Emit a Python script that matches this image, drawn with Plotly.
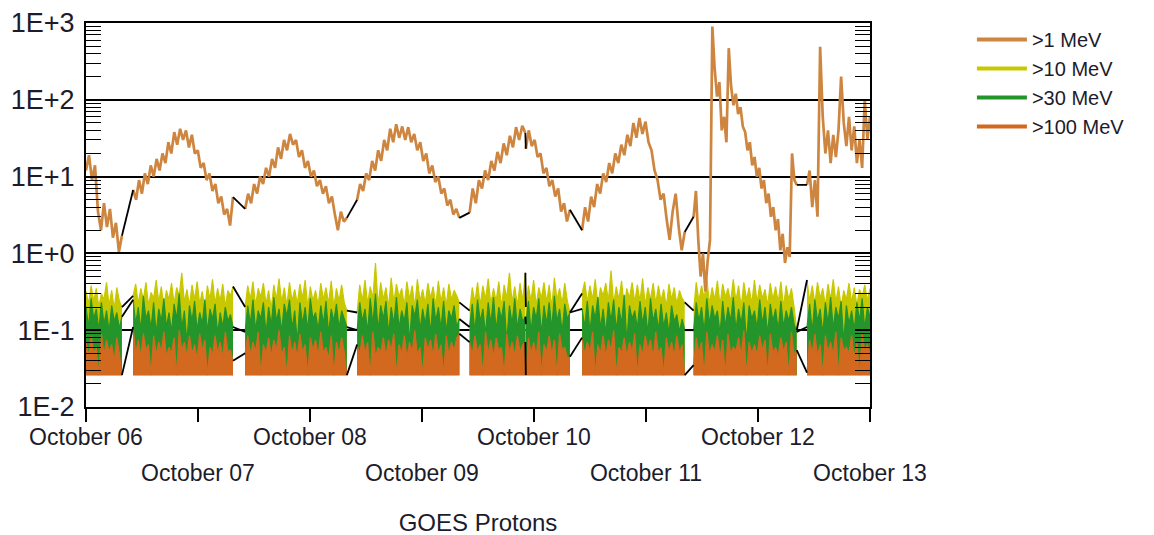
import pandas as pd
import plotly.graph_objects as go

# ---------------- data ----------------
START = pd.Timestamp("2024-10-06 00:00")
# data segments (hours after Oct 06 00:00); data gaps between them
seg_start_h = [0.0, 10.1, 34.1, 58.1, 82.2, 94.25, 106.3, 130.2, 154.5]
seg_end_h = [7.7, 31.5, 55.9, 80.0, 94.15, 103.7, 128.3, 152.3, 168.0]

# >1 MeV flux (pfu), one list per data segment
gt1_s0 = [12, 19, 9, 14, 3.5, 2.0, 4.5, 2.2, 3.8, 1.6, 2.5, 1.05, 1.7]
gt1_s1 = [6.7, 5, 9, 6, 11, 8, 14, 10, 17, 12, 20, 15, 28, 20, 38, 26, 42, 30, 40, 24, 35, 20, 22, 13, 15, 9, 11, 6.5, 8, 4.5, 5.5, 3.2, 3.8, 2.3, 5.4]
gt1_s2 = [3.8, 6, 4.5, 8, 6, 10, 8, 13, 10, 17, 13, 24, 17, 30, 22, 36, 26, 30, 18, 22, 13, 16, 10, 12, 7.5, 9, 6, 7.5, 4.5, 5.5, 3.2, 2.0, 3.5, 2.6, 2.9]
gt1_s3 = [5, 8, 6.5, 11, 9, 16, 12, 22, 16, 30, 22, 42, 28, 48, 32, 45, 30, 44, 28, 36, 22, 28, 16, 20, 11, 14, 8.5, 10, 6, 7, 4.2, 5, 3.2, 3.8, 2.9]
gt1_s4 = [3.4, 7, 4.5, 9, 7, 12, 9, 16, 12, 21, 15, 27, 19, 34, 24, 44, 30, 46, 37]
gt1_s5 = [23, 40, 25, 30, 18, 20, 11, 13, 7.5, 9, 5.5, 7, 3.5, 4.5, 2.6, 3.7]
gt1_s6 = [2.0, 4, 2.6, 5.5, 4, 8, 6, 11, 8.5, 15, 11, 20, 15, 26, 19, 35, 25, 50, 32, 58, 36, 52, 28, 22, 12, 9, 5, 6, 2.8, 1.5, 3.5, 6, 2.2, 1.1, 1.9]
gt1_s7 = [3.0, 6.5, 1.5, 0.5, 1.0, 0.32, 0.8, 1.5, 900, 250, 110, 170, 40, 60, 28, 470, 150, 85, 120, 65, 80, 45, 38, 22, 28, 14, 18, 10, 13, 7, 9, 4.5, 6, 3, 4, 2, 2.8, 1.1, 1.8, 0.75, 1.2, 0.9, 20, 9, 7.8]
gt1_s8 = [7.8, 12, 4, 9, 3, 490, 60, 20, 40, 15, 35, 18, 40, 200, 50, 25, 60, 22, 45, 15, 30, 13, 100, 30, 60]

# >10 MeV flux in milli-pfu (1/1000 pfu)
gt10_s0 = [320, 220, 380, 240, 350, 200, 300, 250, 420, 210, 330, 190, 360, 240, 200]
gt10_s1 = [280, 400, 220, 350, 250, 420, 210, 310, 260, 450, 230, 370, 200, 330, 250, 410, 220, 360, 280, 560, 230, 340, 210, 390, 250, 430, 220, 320, 190, 380, 250, 460, 220, 350, 240, 400, 200, 330, 280, 370]
gt10_s2 = [200, 380, 250, 430, 210, 350, 270, 410, 220, 330, 190, 390, 250, 470, 230, 360, 210, 420, 240, 340, 220, 400, 260, 450, 200, 370, 240, 330, 210, 410, 250, 360, 220, 440, 200, 350, 240, 390, 230, 180]
gt10_s3 = [170, 390, 240, 450, 220, 370, 260, 750, 210, 420, 250, 360, 200, 480, 230, 400, 270, 350, 210, 430, 250, 380, 200, 460, 240, 340, 220, 410, 260, 370, 210, 440, 230, 360, 210, 400, 250, 330, 280, 230]
gt10_s4 = [180, 360, 230, 420, 210, 380, 250, 470, 220, 350, 240, 430, 200, 390, 260, 560, 230, 370, 210, 410, 240, 560]
gt10_s5 = [200, 380, 240, 450, 210, 360, 260, 420, 230, 390, 200, 480, 250, 350, 220, 410, 240, 170]
gt10_s6 = [300, 430, 230, 380, 250, 460, 210, 360, 280, 410, 240, 600, 220, 370, 250, 440, 200, 350, 260, 420, 230, 390, 240, 470, 210, 360, 250, 410, 220, 380, 240, 340, 200, 400, 250, 360, 220, 330, 260, 230]
gt10_s7 = [180, 420, 240, 380, 260, 470, 220, 360, 250, 440, 210, 400, 270, 350, 230, 460, 240, 380, 200, 420, 250, 360, 220, 450, 230, 390, 260, 340, 210, 410, 250, 370, 230, 430, 200, 380, 250, 350, 200, 100]
gt10_s8 = [450, 240, 380, 220, 420, 260, 350, 210, 400, 250, 460, 230, 370, 200, 330, 250, 410, 230, 360, 210, 340, 270, 390, 240, 350]

# >30 MeV flux in milli-pfu
gt30_s0 = [200, 110, 260, 140, 190, 100, 230, 120, 180, 95, 210, 130, 170, 105, 150]
gt30_s1 = [250, 120, 200, 100, 280, 140, 180, 105, 230, 90, 190, 130, 260, 110, 170, 95, 220, 140, 300, 105, 180, 70, 210, 130, 240, 100, 170, 120, 250, 95, 190, 140, 220, 90, 170, 110, 200, 130, 160, 110]
gt30_s2 = [95, 210, 120, 250, 100, 180, 140, 230, 90, 200, 115, 270, 130, 190, 95, 220, 150, 250, 105, 180, 70, 230, 120, 200, 100, 260, 140, 170, 100, 210, 120, 240, 90, 190, 130, 220, 105, 180, 140, 110]
gt30_s3 = [100, 230, 130, 190, 95, 260, 120, 300, 100, 210, 140, 240, 90, 200, 120, 270, 105, 180, 130, 230, 70, 210, 150, 250, 100, 190, 120, 220, 90, 260, 130, 200, 105, 240, 95, 180, 140, 210, 110, 140]
gt30_s4 = [110, 220, 95, 250, 130, 190, 90, 230, 120, 270, 100, 200, 140, 240, 70, 210, 120, 260, 105, 190, 130, 150]
gt30_s5 = [120, 240, 95, 200, 140, 260, 90, 210, 120, 230, 105, 280, 130, 190, 95, 220, 140, 170]
gt30_s6 = [190, 110, 240, 95, 210, 140, 270, 105, 190, 90, 230, 130, 250, 100, 200, 120, 290, 70, 210, 140, 180, 105, 240, 120, 200, 90, 260, 130, 190, 100, 220, 110, 170, 90, 210, 130, 160, 95, 140, 100]
gt30_s7 = [100, 230, 130, 200, 95, 260, 120, 210, 140, 180, 90, 240, 110, 200, 130, 270, 100, 190, 120, 230, 70, 210, 140, 180, 105, 250, 120, 200, 90, 220, 130, 190, 100, 240, 110, 180, 130, 200, 120, 95]
gt30_s8 = [110, 220, 95, 250, 130, 190, 90, 230, 120, 270, 105, 200, 140, 240, 70, 210, 120, 180, 100, 230, 130, 260, 105, 200, 150]

# >100 MeV flux in milli-pfu
gt100_s0 = [70, 45, 85, 50, 60, 26, 90, 48, 75, 52, 65, 40, 80, 50, 26]
gt100_s1 = [110, 50, 75, 45, 90, 55, 65, 26, 85, 48, 70, 52, 95, 45, 60, 50, 80, 26, 100, 55, 70, 46, 85, 50, 65, 42, 90, 54, 75, 26, 60, 48, 85, 50, 70, 44, 95, 52, 55, 40]
gt100_s2 = [50, 85, 48, 70, 52, 95, 26, 65, 50, 80, 45, 75, 55, 100, 48, 60, 26, 85, 50, 70, 44, 90, 52, 65, 26, 80, 55, 75, 46, 95, 50, 60, 42, 85, 26, 70, 50, 80, 52, 26]
gt100_s3 = [65, 48, 85, 50, 70, 26, 95, 45, 60, 52, 80, 46, 75, 55, 90, 26, 65, 50, 85, 44, 70, 52, 100, 48, 60, 26, 80, 55, 75, 46, 90, 50, 65, 26, 85, 48, 70, 54, 80, 90]
gt100_s4 = [70, 48, 85, 52, 65, 26, 95, 50, 75, 44, 80, 55, 60, 26, 90, 50, 70, 46, 85, 52, 65, 70]
gt100_s5 = [26, 80, 50, 70, 46, 95, 26, 65, 52, 85, 48, 75, 26, 90, 55, 60, 44, 45]
gt100_s6 = [80, 48, 70, 52, 95, 26, 65, 50, 85, 45, 75, 54, 100, 26, 60, 50, 80, 46, 70, 52, 90, 26, 65, 48, 85, 55, 75, 44, 95, 50, 60, 26, 80, 52, 70, 46, 85, 50, 65, 26]
gt100_s7 = [35, 80, 50, 70, 26, 95, 48, 65, 52, 85, 45, 75, 26, 90, 50, 60, 54, 80, 46, 100, 26, 70, 50, 65, 48, 85, 55, 75, 26, 90, 50, 60, 46, 80, 52, 70, 26, 95, 48, 55]
gt100_s8 = [28, 75, 50, 90, 46, 65, 26, 85, 52, 70, 48, 95, 26, 80, 55, 60, 50, 85, 44, 70, 26, 90, 52, 65, 50]

series_names = [">1 MeV", ">10 MeV", ">30 MeV", ">100 MeV"]
series_colors = ["#CD853F", "#C8C800", "#24952A", "#D2691E"]

day_dates = ["2024-10-%02d" % d for d in range(6, 14)]
day_labels = ["October %02d" % d for d in range(6, 14)]
y_tick_vals = [0.01, 0.1, 1, 10, 100, 1000]
y_tick_text = ["1E-2", "1E-1", "1E+0", "1E+1", "1E+2", "1E+3"]
title_text = "GOES Protons"

# ---------------- assemble ----------------
GT1 = [gt1_s0, gt1_s1, gt1_s2, gt1_s3, gt1_s4, gt1_s5, gt1_s6, gt1_s7, gt1_s8]
GT10 = [[v / 1000 for v in s] for s in [gt10_s0, gt10_s1, gt10_s2, gt10_s3, gt10_s4, gt10_s5, gt10_s6, gt10_s7, gt10_s8]]
GT30 = [[v / 1000 for v in s] for s in [gt30_s0, gt30_s1, gt30_s2, gt30_s3, gt30_s4, gt30_s5, gt30_s6, gt30_s7, gt30_s8]]
GT100 = [[v / 1000 for v in s] for s in [gt100_s0, gt100_s1, gt100_s2, gt100_s3, gt100_s4, gt100_s5, gt100_s6, gt100_s7, gt100_s8]]


def seg_times(i, n):
    a, b = seg_start_h[i], seg_end_h[i]
    hrs = [a + (b - a) * k / (n - 1) for k in range(n)]
    return [(START + pd.Timedelta(hours=h)).strftime("%Y-%m-%d %H:%M:%S") for h in hrs]


def line_xy(segs):
    xs, ys = [], []
    for i, s in enumerate(segs):
        xs += seg_times(i, len(s)) + [None]
        ys += list(s) + [None]
    return xs, ys


def fill_xy(segs, base):
    xs, ys = [], []
    for i, s in enumerate(segs):
        t = seg_times(i, len(s))
        xs += t + t[::-1] + [None]
        ys += list(s) + [base] * len(s) + [None]
    return xs, ys


def gap_xy(segs):
    xs, ys = [], []
    for i in range(len(segs) - 1):
        t0 = seg_times(i, len(segs[i]))[-1]
        t1 = seg_times(i + 1, len(segs[i + 1]))[0]
        xs += [t0, t1, None]
        ys += [segs[i][-1], segs[i + 1][0], None]
    return xs, ys


base = min(min(s) for s in GT100)
FONT = "Liberation Sans, Arial, sans-serif"
TXT = "#1c1c2c"

fig = go.Figure()

for segs, col in zip([GT10, GT30, GT100], series_colors[1:]):
    fx, fy = fill_xy(segs, base)
    fig.add_trace(go.Scatter(x=fx, y=fy, mode="lines", fill="toself", fillcolor=col,
                             line=dict(width=0, color=col), showlegend=False, hoverinfo="skip"))
    lx, ly = line_xy(segs)
    fig.add_trace(go.Scatter(x=lx, y=ly, mode="lines", line=dict(width=1.2, color=col),
                             connectgaps=False, showlegend=False))

# black connectors across data gaps
for segs in [GT10, GT30, GT100]:
    gx, gy = gap_xy(segs)
    fig.add_trace(go.Scatter(x=gx, y=gy, mode="lines", line=dict(width=1.8, color="black"),
                             showlegend=False, hoverinfo="skip"))

# >1 MeV on the overlay x axis (drawn above)
lx, ly = line_xy(GT1)
fig.add_trace(go.Scatter(x=lx, y=ly, mode="lines", xaxis="x2",
                         line=dict(width=2.7, color=series_colors[0]), connectgaps=False, showlegend=False))
gx, gy = gap_xy(GT1)
fig.add_trace(go.Scatter(x=gx, y=gy, mode="lines", xaxis="x2", line=dict(width=1.8, color="black"),
                         showlegend=False, hoverinfo="skip"))

# legend entries
for k, (nm, col) in enumerate(zip(series_names, series_colors)):
    fig.add_trace(go.Scatter(x=[None], y=[None], mode="lines", name=nm,
                             line=dict(width=4, color=col), legendrank=k + 1))

x_range = [START.strftime("%Y-%m-%d"), (START + pd.Timedelta(days=7)).strftime("%Y-%m-%d")]
minor_vals = [m * 10 ** e for e in range(-2, 3) for m in range(2, 10)]

# the page has an 8px body margin: figure is sized / placed to compensate
fig.update_layout(
    width=1146, height=527,
    margin=dict(l=78, r=284, t=15, b=128, autoexpand=False),
    paper_bgcolor="white", plot_bgcolor="white",
    font=dict(family=FONT, color=TXT),
    title=dict(text=title_text, x=0.5, xref="paper", xanchor="center",
               y=1 - 515 / 527, yref="container", yanchor="middle",
               font=dict(size=24, family=FONT, color=TXT)),
    legend=dict(x=1.130, y=1.008, xanchor="left", yanchor="top", font=dict(size=20, family=FONT, color=TXT),
                itemwidth=50, bgcolor="rgba(0,0,0,0)", tracegroupgap=0),
    xaxis=dict(type="date", range=x_range, tickmode="array", tickvals=day_dates, automargin=False,
               ticktext=[lab if i % 2 == 0 else "" for i, lab in enumerate(day_labels)],
               ticks="outside", ticklen=13, tickwidth=1.5, tickcolor="black", ticklabelstandoff=-5,
               showline=True, linewidth=2, linecolor="black", mirror=True,
               showgrid=False, zeroline=False, tickfont=dict(size=23, family=FONT, color=TXT)),
    xaxis2=dict(type="date", overlaying="x", matches="x", anchor="y", side="bottom", automargin=False,
                tickmode="array", tickvals=day_dates,
                ticktext=["" if i % 2 == 0 else lab for i, lab in enumerate(day_labels)],
                ticks="outside", ticklen=13, tickcolor="rgba(0,0,0,0)", ticklabelstandoff=32,
                showline=False, showgrid=False, zeroline=False,
                tickfont=dict(size=23, family=FONT, color=TXT)),
    yaxis=dict(type="log", range=[-2, 3], tickmode="array", tickvals=y_tick_vals, ticktext=y_tick_text,
               automargin=False, ticklabelstandoff=4,
               ticks="inside", ticklen=15, tickwidth=1.5, tickcolor="black",
               showline=True, linewidth=2, linecolor="black", mirror="ticks",
               showgrid=True, gridcolor="black", gridwidth=1.5, zeroline=False,
               minor=dict(tickmode="array", tickvals=minor_vals, ticks="inside", ticklen=15,
                          tickwidth=1.3, tickcolor="black", showgrid=False),
               tickfont=dict(size=27, family=FONT, color=TXT)),
)

fig.write_html("out.html")
